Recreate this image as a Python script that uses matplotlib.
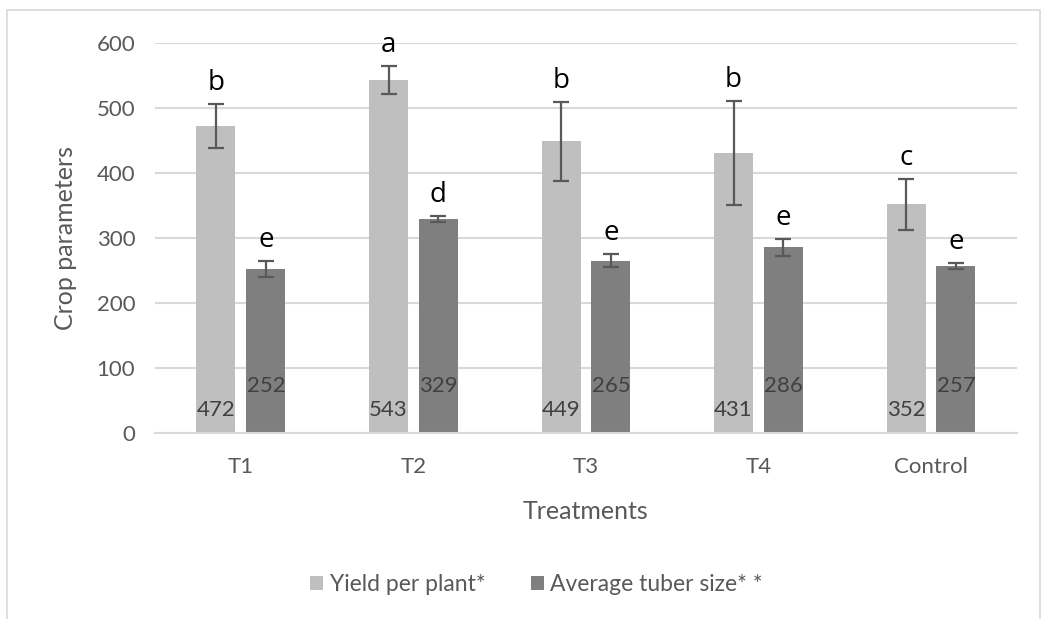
import numpy as np
import matplotlib.pyplot as plt
from matplotlib.patches import Rectangle

# data
treatments = ['T1', 'T2', 'T3', 'T4', 'Control']
yield_vals = [472, 543, 449, 431, 352]
yield_err = [34, 22, 61, 80, 39]
yield_letters = ['b', 'a', 'b', 'b', 'c']
tuber_vals = [252, 329, 265, 286, 257]
tuber_err = [12, 5, 10, 13, 4]
tuber_letters = ['e', 'd', 'e', 'e', 'e']

plt.rcParams['font.family'] = ['Lato', 'DejaVu Sans']

COL_LIGHT = '#bfbfbf'
COL_DARK = '#7f7f7f'
TXT = '#595959'

fig = plt.figure(figsize=(10.52, 6.19), dpi=100)
ax = fig.add_axes([0.147, 0.3005, 0.82, 0.63])

# chart border
fig.patches.append(Rectangle((7 / 1052, -0.05), 1033 / 1052, 1 - 10 / 619 + 0.05,
                             transform=fig.transFigure, fill=False,
                             edgecolor='#d9d9d9', linewidth=1.2))

x = np.arange(len(treatments))
w = 0.226
off = (w + 0.063) / 2

ax.bar(x - off, yield_vals, w, color=COL_LIGHT, label='Yield per plant*', zorder=2)
ax.bar(x + off, tuber_vals, w, color=COL_DARK, label='Average tuber size* *', zorder=2)
ax.errorbar(x - off, yield_vals, yerr=yield_err, fmt='none', ecolor='#595959',
            elinewidth=1.6, capsize=6, capthick=1.6, zorder=3)
ax.errorbar(x + off, tuber_vals, yerr=tuber_err, fmt='none', ecolor='#595959',
            elinewidth=1.6, capsize=6, capthick=1.6, zorder=3)

# significance letters
for i in range(len(treatments)):
    ax.annotate(yield_letters[i], (x[i] - off, yield_vals[i] + yield_err[i]),
                xytext=(0, 5), textcoords='offset points', ha='center', va='bottom',
                fontsize=20, color='black', family=['Open Sans', 'DejaVu Sans'])
    ax.annotate(tuber_letters[i], (x[i] + off, tuber_vals[i] + tuber_err[i]),
                xytext=(0, 5), textcoords='offset points', ha='center', va='bottom',
                fontsize=20, color='black', family=['Open Sans', 'DejaVu Sans'])
    # value labels near the base
    ax.text(x[i] - off, 36, str(yield_vals[i]), ha='center', va='center',
            fontsize=16, color='#404040')
    ax.text(x[i] + off, 72, str(tuber_vals[i]), ha='center', va='center',
            fontsize=16, color='#404040')

ax.set_xlim(-0.5, len(treatments) - 0.5)
ax.set_ylim(0, 600)
ax.set_yticks(range(0, 601, 100))
ax.set_xticks(x)
ax.set_xticklabels(treatments)
ax.tick_params(axis='both', length=0, labelsize=16, colors=TXT)
ax.tick_params(axis='x', pad=17)
ax.tick_params(axis='y', pad=14)

ax.set_axisbelow(True)
ax.yaxis.grid(True, color='#d9d9d9', linewidth=1.5)
for s in ['top', 'right', 'left']:
    ax.spines[s].set_visible(False)
ax.spines['bottom'].set_color('#d9d9d9')
ax.spines['bottom'].set_linewidth(1.5)

ax.set_ylabel('Crop parameters', fontsize=18, color=TXT, labelpad=14)
ax.set_xlabel('Treatments', fontsize=18, color=TXT, labelpad=17)

fig.legend(loc='center', bbox_to_anchor=(0.51, 0.055), ncol=2, frameon=False,
           fontsize=16.5, labelcolor=TXT, handlelength=0.55, handleheight=0.55,
           handletextpad=0.3, columnspacing=2.0)

fig.savefig('out.png', dpi=100, facecolor='white')
